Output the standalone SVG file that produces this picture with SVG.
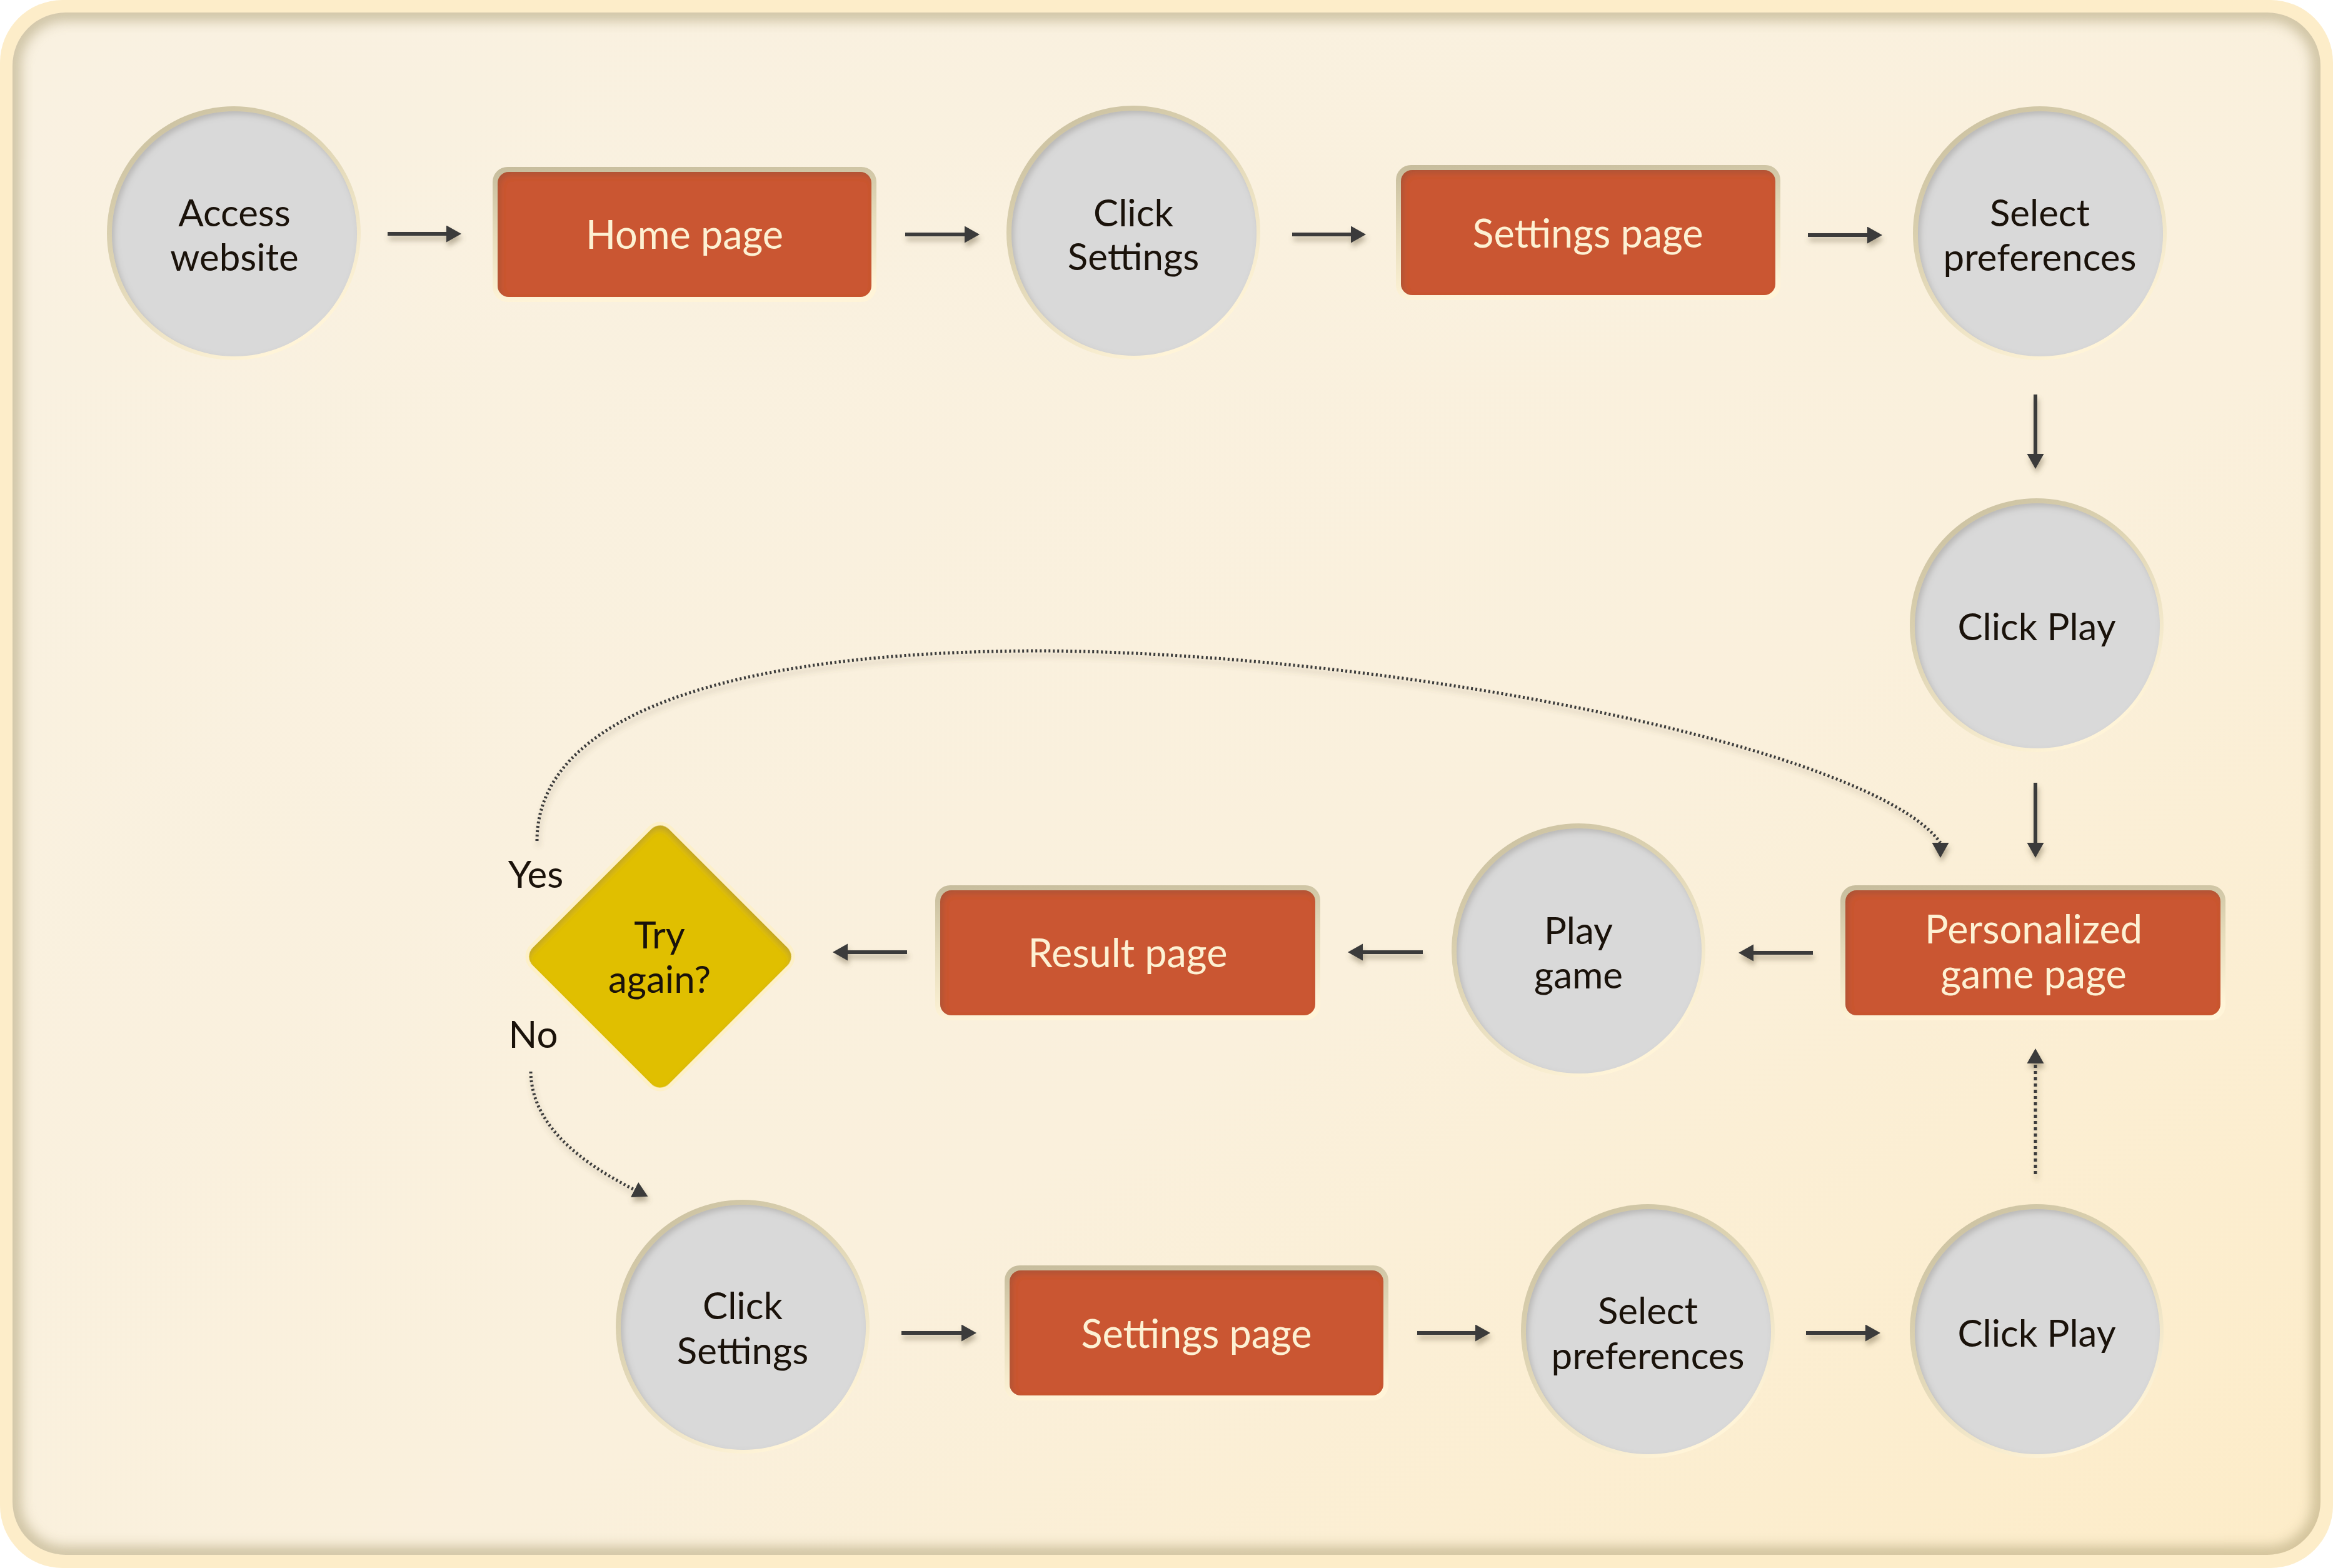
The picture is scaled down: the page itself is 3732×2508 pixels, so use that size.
<svg xmlns="http://www.w3.org/2000/svg" width="3732" height="2508" viewBox="0 0 3732 2508">
<style>
.lbl{font-family:Lato,"Liberation Sans",sans-serif;font-size:60px;fill:#1a120a;text-anchor:middle}
.rl{font-family:Lato,"Liberation Sans",sans-serif;font-size:63px;fill:#fdf1d3;text-anchor:middle}
.fill-c{fill:#d9d9d9}
.fill-r{fill:#ca5731}
.ln{stroke:#3a3a3a;stroke-width:6;fill:none}
.dot{stroke:#3a3a3a;stroke-width:5;fill:none;stroke-dasharray:5 5}
.dotc{stroke:#3a3a3a;stroke-width:5;fill:none;stroke-dasharray:3 4}
</style>
<defs>
<linearGradient id="bg" x1="0" y1="0" x2="1" y2="1">
<stop offset="0" stop-color="#f9f1e1"/><stop offset="0.6" stop-color="#faf0dc"/><stop offset="1" stop-color="#fdecc8"/>
</linearGradient>
<linearGradient id="rim" x1="0" y1="0" x2="0.6" y2="1">
<stop offset="0" stop-color="#c6bc9c"/><stop offset="0.45" stop-color="#ddd3b2"/><stop offset="1" stop-color="#fff4d8"/>
</linearGradient>
<linearGradient id="rimr" x1="0" y1="0" x2="0.15" y2="1">
<stop offset="0" stop-color="#c6bc9c"/><stop offset="0.5" stop-color="#e6dcbb"/><stop offset="1" stop-color="#fff4d8"/>
</linearGradient>
<clipPath id="panelClip"><rect x="20" y="20" width="3692" height="2467" rx="85"/></clipPath>
<filter id="blur12" x="-5%" y="-5%" width="110%" height="110%"><feGaussianBlur stdDeviation="10"/></filter>
<filter id="inset" x="-10%" y="-10%" width="120%" height="120%">
<feComponentTransfer in="SourceAlpha" result="inv"><feFuncA type="table" tableValues="1 0"/></feComponentTransfer>
<feGaussianBlur in="inv" stdDeviation="5"/>
<feOffset dx="4" dy="5" result="sh"/>
<feFlood flood-color="#5a5040" flood-opacity="0.35"/>
<feComposite in2="sh" operator="in"/>
<feComposite in2="SourceAlpha" operator="in" result="is"/>
<feMerge><feMergeNode in="SourceGraphic"/><feMergeNode in="is"/></feMerge>
</filter>
<filter id="drop" x="-20%" y="-20%" width="140%" height="160%">
<feDropShadow dx="2" dy="7" stdDeviation="4" flood-color="#6b5d3f" flood-opacity="0.45"/>
</filter>
<marker id="ah" markerUnits="userSpaceOnUse" markerWidth="26" markerHeight="28" refX="0" refY="13.5" orient="auto">
<path d="M0,0 L24,13.5 L0,27 z" fill="#3a3a3a"/>
</marker>
<marker id="ahd" markerUnits="userSpaceOnUse" markerWidth="26" markerHeight="28" refX="0" refY="13.5" orient="90">
<path d="M0,0 L24,13.5 L0,27 z" fill="#3a3a3a"/>
</marker>
</defs>

<!-- frame -->
<rect x="0" y="0" width="3732" height="2508" rx="100" fill="#fdedc9"/>
<rect x="20" y="20" width="3692" height="2467" rx="85" fill="url(#bg)"/>
<g clip-path="url(#panelClip)">
<rect x="20" y="20" width="3692" height="2467" rx="85" fill="none" stroke="#a99b70" stroke-width="26" opacity="0.55" filter="url(#blur12)"/>
</g>

<!-- connectors -->
<g id="connectors" filter="url(#drop)">
<line class="ln" x1="620" y1="374" x2="714" y2="374" marker-end="url(#ah)"/>
<line class="ln" x1="1448" y1="375" x2="1543" y2="375" marker-end="url(#ah)"/>
<line class="ln" x1="2067" y1="375" x2="2161" y2="375" marker-end="url(#ah)"/>
<line class="ln" x1="2892" y1="376" x2="2987" y2="376" marker-end="url(#ah)"/>
<line class="ln" x1="3256" y1="631" x2="3256" y2="726" marker-end="url(#ah)"/>
<line class="ln" x1="3256" y1="1252" x2="3256" y2="1348" marker-end="url(#ah)"/>
<line class="ln" x1="2900" y1="1524" x2="2805" y2="1524" marker-end="url(#ah)"/>
<line class="ln" x1="2276" y1="1523" x2="2180" y2="1523" marker-end="url(#ah)"/>
<line class="ln" x1="1451" y1="1523" x2="1356" y2="1523" marker-end="url(#ah)"/>
<line class="ln" x1="1442" y1="2132" x2="1538" y2="2132" marker-end="url(#ah)"/>
<line class="ln" x1="2267" y1="2132" x2="2360" y2="2132" marker-end="url(#ah)"/>
<line class="ln" x1="2889" y1="2132" x2="2984" y2="2132" marker-end="url(#ah)"/>
<line class="dot" x1="3256" y1="1878" x2="3256" y2="1701" marker-end="url(#ah)"/>
<path class="dotc" d="M859,1345 C859,1150 1150,1041 1669,1041 C2250,1045 3000,1200 3104,1348" marker-end="url(#ahd)"/>
<path class="dotc" d="M849,1714 C850,1800 930,1860 1015,1903" marker-end="url(#ah)"/>
</g>

<!-- nodes -->
<g id="n-access">
<circle cx="374" cy="373" r="203" fill="url(#rim)"/>
<circle class="fill-c" cx="375" cy="374" r="196" filter="url(#inset)"/>
<text class="lbl" x="375" y="362">Access</text>
<text class="lbl" x="375" y="433">website</text>
</g>
<g id="n-home">
<rect x="788" y="267" width="614" height="216" rx="24" fill="url(#rimr)"/>
<rect class="fill-r" x="796" y="275" width="598" height="200" rx="18" filter="url(#inset)"/>
<text class="rl" x="1095" y="398">Home page</text>
</g>
<g id="n-clicksettings1">
<circle cx="1813" cy="372" r="203" fill="url(#rim)"/>
<circle class="fill-c" cx="1814" cy="373" r="196" filter="url(#inset)"/>
<text class="lbl" x="1813" y="362">Click</text>
<text class="lbl" x="1813" y="432">Settings</text>
</g>
<g id="n-settings1">
<rect x="2233" y="264" width="615" height="216" rx="24" fill="url(#rimr)"/>
<rect class="fill-r" x="2241" y="272" width="599" height="200" rx="18" filter="url(#inset)"/>
<text class="rl" x="2540" y="396">Settings page</text>
</g>
<g id="n-select1">
<circle cx="3263" cy="373" r="203" fill="url(#rim)"/>
<circle class="fill-c" cx="3264" cy="374" r="196" filter="url(#inset)"/>
<text class="lbl" x="3263" y="362">Select</text>
<text class="lbl" x="3263" y="433">preferences</text>
</g>
<g id="n-clickplay1">
<circle cx="3258" cy="1000" r="203" fill="url(#rim)"/>
<circle class="fill-c" cx="3259" cy="1001" r="196" filter="url(#inset)"/>
<text class="lbl" x="3258" y="1024">Click Play</text>
</g>
<g id="n-personalized">
<rect x="2944" y="1416" width="616" height="216" rx="24" fill="url(#rimr)"/>
<rect class="fill-r" x="2952" y="1424" width="600" height="200" rx="18" filter="url(#inset)"/>
<text class="rl" x="3253" y="1509" font-size="61">Personalized</text>
<text class="rl" x="3253" y="1581" font-size="61">game page</text>
</g>
<g id="n-playgame">
<circle cx="2525" cy="1520" r="203" fill="url(#rim)"/>
<circle class="fill-c" cx="2526" cy="1521" r="196" filter="url(#inset)"/>
<text class="lbl" x="2525" y="1510">Play</text>
<text class="lbl" x="2525" y="1581">game</text>
</g>
<g id="n-result">
<rect x="1496" y="1416" width="616" height="216" rx="24" fill="url(#rimr)"/>
<rect class="fill-r" x="1504" y="1424" width="600" height="200" rx="18" filter="url(#inset)"/>
<text class="rl" x="1804" y="1547">Result page</text>
</g>
<g id="n-tryagain">
<rect x="-160" y="-160" width="320" height="320" rx="26" fill="#fdf0c8" transform="translate(1056 1530) rotate(45)"/>
<rect x="-154" y="-154" width="308" height="308" rx="20" fill="#e0bf00" filter="url(#inset)" transform="translate(1056 1530) rotate(45)"/>
<text class="lbl" x="1055" y="1517">Try</text>
<text class="lbl" x="1055" y="1588">again?</text>
</g>
<text class="lbl" x="857" y="1420">Yes</text>
<text class="lbl" x="853" y="1676">No</text>
<g id="n-clicksettings2">
<circle cx="1188" cy="2122" r="203" fill="url(#rim)"/>
<circle class="fill-c" cx="1189" cy="2123" r="196" filter="url(#inset)"/>
<text class="lbl" x="1188" y="2110">Click</text>
<text class="lbl" x="1188" y="2182">Settings</text>
</g>
<g id="n-settings2">
<rect x="1607" y="2024" width="614" height="216" rx="24" fill="url(#rimr)"/>
<rect class="fill-r" x="1615" y="2032" width="598" height="200" rx="18" filter="url(#inset)"/>
<text class="rl" x="1914" y="2156">Settings page</text>
</g>
<g id="n-select2">
<circle cx="2636" cy="2129" r="203" fill="url(#rim)"/>
<circle class="fill-c" cx="2637" cy="2130" r="196" filter="url(#inset)"/>
<text class="lbl" x="2636" y="2118">Select</text>
<text class="lbl" x="2636" y="2190">preferences</text>
</g>
<g id="n-clickplay2">
<circle cx="3258" cy="2129" r="203" fill="url(#rim)"/>
<circle class="fill-c" cx="3259" cy="2130" r="196" filter="url(#inset)"/>
<text class="lbl" x="3258" y="2154">Click Play</text>
</g>
</svg>
